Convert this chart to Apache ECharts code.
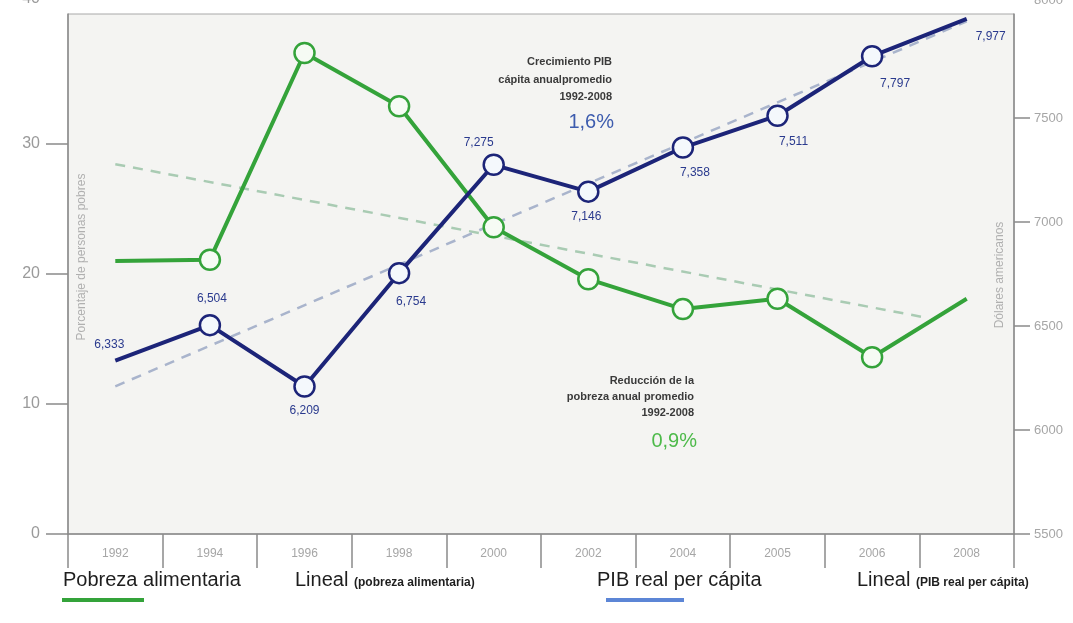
<!DOCTYPE html>
<html>
<head>
<meta charset="utf-8">
<script src="https://cdn.jsdelivr.net/npm/echarts@6/dist/echarts.min.js"></script>
<style>
html,body{margin:0;padding:0;background:#fff;}
#c{width:1073px;height:623px;}
</style>
</head>
<body>
<div id="c"></div>
<script>
// ---- data ----
var years = ['1992','1994','1996','1998','2000','2002','2004','2005','2006','2008'];
var pobreza = [21.0, 21.1, 37.0, 32.9, 23.6, 19.6, 17.3, 18.1, 13.6, 18.1];
var pib = [6333, 6504, 6209, 6754, 7275, 7146, 7358, 7511, 7797, 7977];
// trend line endpoints: [category position, value]
var trendPobreza = [[0, 28.45], [8.53, 16.7]];
var trendPib = [[0, 6210], [9, 7965]];
var leftTicks = [0, 10, 20, 30, 40];
var rightTicks = [5500, 6000, 6500, 7000, 7500, 8000];

// ---- styles ----
var GREEN = '#34a33a';
var NAVY = '#1c2478';
var labelOffsets = [[-6,-16],[2,-26],[0,24],[12,29],[-15,-22],[-2,25],[12,25],[16,26],[23,27],[24,18]];
var FONT = '"Liberation Sans", Arial, sans-serif';

function fmt(v){ return String(v).replace(/\B(?=(\d{3})+(?!\d))/g, ','); }

var greenData = pobreza.map(function(v,i){
  var o = {value: v};
  if (i === 0 || i === pobreza.length-1) { o.symbol = 'none'; }
  return o;
});
var blueData = pib.map(function(v,i){
  var o = {value: v, label: {offset: labelOffsets[i]}};
  if (i === 0 || i === pib.length-1) { o.symbolSize = 0; }
  return o;
});

var chart = echarts.init(document.getElementById('c'), null, {renderer:'canvas'});
chart.setOption({
  backgroundColor: '#ffffff',
  animation: false,
  textStyle: {fontFamily: FONT},
  grid: {left: 68, right: 59, top: 14, bottom: 89, show: true,
         backgroundColor: '#f4f4f2', borderColor: '#a8a8a8', borderWidth: 1},
  xAxis: [{
    type: 'category', data: years, boundaryGap: true,
    axisLine: {onZero: false, lineStyle: {color: '#8a8a8a', width: 1.5}},
    axisTick: {show: true, interval: 0, length: 34, lineStyle: {color: '#8a8a8a', width: 1.5}},
    axisLabel: {color: '#a6a6a6', fontSize: 12, margin: 14, interval: 0},
    splitLine: {show: false}
  },{
    type: 'value', min: -0.5, max: 9.5, show: false
  }],
  yAxis: [{
    type: 'value', min: leftTicks[0], max: leftTicks[leftTicks.length-1], interval: 10, position: 'left',
    axisLine: {show: true, onZero: false, lineStyle: {color: '#8a8a8a', width: 1.5}},
    axisTick: {show: true, length: 22, lineStyle: {color: '#8a8a8a', width: 1.5}},
    axisLabel: {color: '#9a9a9a', fontSize: 16, margin: 28, showMaxLabel: false,
                formatter: function(v){ return String(v); }},
    splitLine: {show: false}
  },{
    type: 'value', min: rightTicks[0], max: rightTicks[rightTicks.length-1], interval: 500, position: 'right',
    axisLine: {show: true, onZero: false, lineStyle: {color: '#8a8a8a', width: 1.5}},
    axisTick: {show: true, length: 16, lineStyle: {color: '#8a8a8a', width: 1.5}},
    axisLabel: {color: '#a6a6a6', fontSize: 13, margin: 20, showMaxLabel: false,
                formatter: function(v){ return String(v); }},
    splitLine: {show: false}
  }],
  series: [{
    name: 'Lineal (pobreza alimentaria)', type: 'line', xAxisIndex: 1, yAxisIndex: 0,
    data: trendPobreza, symbol: 'none', z: 1,
    lineStyle: {color: '#a9cbb3', width: 2.5, type: [10, 8]}
  },{
    name: 'Lineal (PIB real per cápita)', type: 'line', xAxisIndex: 1, yAxisIndex: 1,
    data: trendPib, symbol: 'none', z: 1,
    lineStyle: {color: '#a9b4cc', width: 2.5, type: [10, 8]}
  },{
    name: 'Pobreza alimentaria', type: 'line', xAxisIndex: 0, yAxisIndex: 0,
    data: greenData, symbol: 'circle', symbolSize: 20, z: 3,
    lineStyle: {color: GREEN, width: 4},
    itemStyle: {color: '#f6fbf4', borderColor: GREEN, borderWidth: 2.5}
  },{
    name: 'PIB real per cápita', type: 'line', xAxisIndex: 0, yAxisIndex: 1,
    data: blueData, symbol: 'circle', symbolSize: 20, z: 4,
    lineStyle: {color: NAVY, width: 4},
    itemStyle: {color: '#f4f8fc', borderColor: NAVY, borderWidth: 2.5},
    label: {show: true, position: 'inside', color: '#2a3a8e', fontSize: 12,
            formatter: function(p){ return fmt(p.value); }}
  }],
  graphic: [
    {type:'text', x:40, y:-1, style:{text:String(leftTicks[leftTicks.length-1]), fill:'#9a9a9a', font:'16px '+FONT, align:'right', verticalAlign:'middle'}},
    {type:'text', x:1034, y:0, style:{text:String(rightTicks[rightTicks.length-1]), fill:'#a6a6a6', font:'13px '+FONT, align:'left', verticalAlign:'middle'}},
    {type:'text', x:82, y:257, rotation: Math.PI/2, style:{text:'Porcentaje de personas pobres', fill:'#b0b0b0', font:'12px '+FONT, align:'center', verticalAlign:'middle'}},
    {type:'text', x:1000, y:275, rotation: Math.PI/2, style:{text:'Dólares americanos', fill:'#b0b0b0', font:'12px '+FONT, align:'center', verticalAlign:'middle'}},

    {type:'text', x:612, y:62, style:{text:'Crecimiento PIB', fill:'#3a3a3a', font:'bold 11px '+FONT, align:'right', verticalAlign:'middle'}},
    {type:'text', x:612, y:80, style:{text:'cápita anualpromedio', fill:'#3a3a3a', font:'bold 11px '+FONT, align:'right', verticalAlign:'middle'}},
    {type:'text', x:612, y:97, style:{text:'1992-2008', fill:'#3a3a3a', font:'bold 11px '+FONT, align:'right', verticalAlign:'middle'}},
    {type:'text', x:614, y:122, style:{text:'1,6%', fill:'#3d5cae', font:'20px '+FONT, align:'right', verticalAlign:'middle'}},

    {type:'text', x:694, y:381, style:{text:'Reducción de la', fill:'#3a3a3a', font:'bold 11px '+FONT, align:'right', verticalAlign:'middle'}},
    {type:'text', x:694, y:397, style:{text:'pobreza anual promedio', fill:'#3a3a3a', font:'bold 11px '+FONT, align:'right', verticalAlign:'middle'}},
    {type:'text', x:694, y:413, style:{text:'1992-2008', fill:'#3a3a3a', font:'bold 11px '+FONT, align:'right', verticalAlign:'middle'}},
    {type:'text', x:697, y:441, style:{text:'0,9%', fill:'#4dba4a', font:'20px '+FONT, align:'right', verticalAlign:'middle'}},

    {type:'text', x:63, y:580, style:{text:'Pobreza alimentaria', fill:'#1e1e1e', font:'20px '+FONT, align:'left', verticalAlign:'middle'}},
    {type:'line', shape:{x1:62, y1:600, x2:144, y2:600}, style:{stroke:GREEN, lineWidth:4}},
    {type:'text', x:295, y:580, style:{text:'Lineal', fill:'#1e1e1e', font:'20px '+FONT, align:'left', verticalAlign:'middle'}},
    {type:'text', x:354, y:583, style:{text:'(pobreza alimentaria)', fill:'#1e1e1e', font:'bold 12px '+FONT, align:'left', verticalAlign:'middle'}},
    {type:'text', x:597, y:580, style:{text:'PIB real per cápita', fill:'#1e1e1e', font:'20px '+FONT, align:'left', verticalAlign:'middle'}},
    {type:'line', shape:{x1:606, y1:600, x2:684, y2:600}, style:{stroke:'#5c86d6', lineWidth:4}},
    {type:'text', x:857, y:580, style:{text:'Lineal', fill:'#1e1e1e', font:'20px '+FONT, align:'left', verticalAlign:'middle'}},
    {type:'text', x:916, y:583, style:{text:'(PIB real per cápita)', fill:'#1e1e1e', font:'bold 12px '+FONT, align:'left', verticalAlign:'middle'}}
  ]
});
</script>
</body>
</html>
